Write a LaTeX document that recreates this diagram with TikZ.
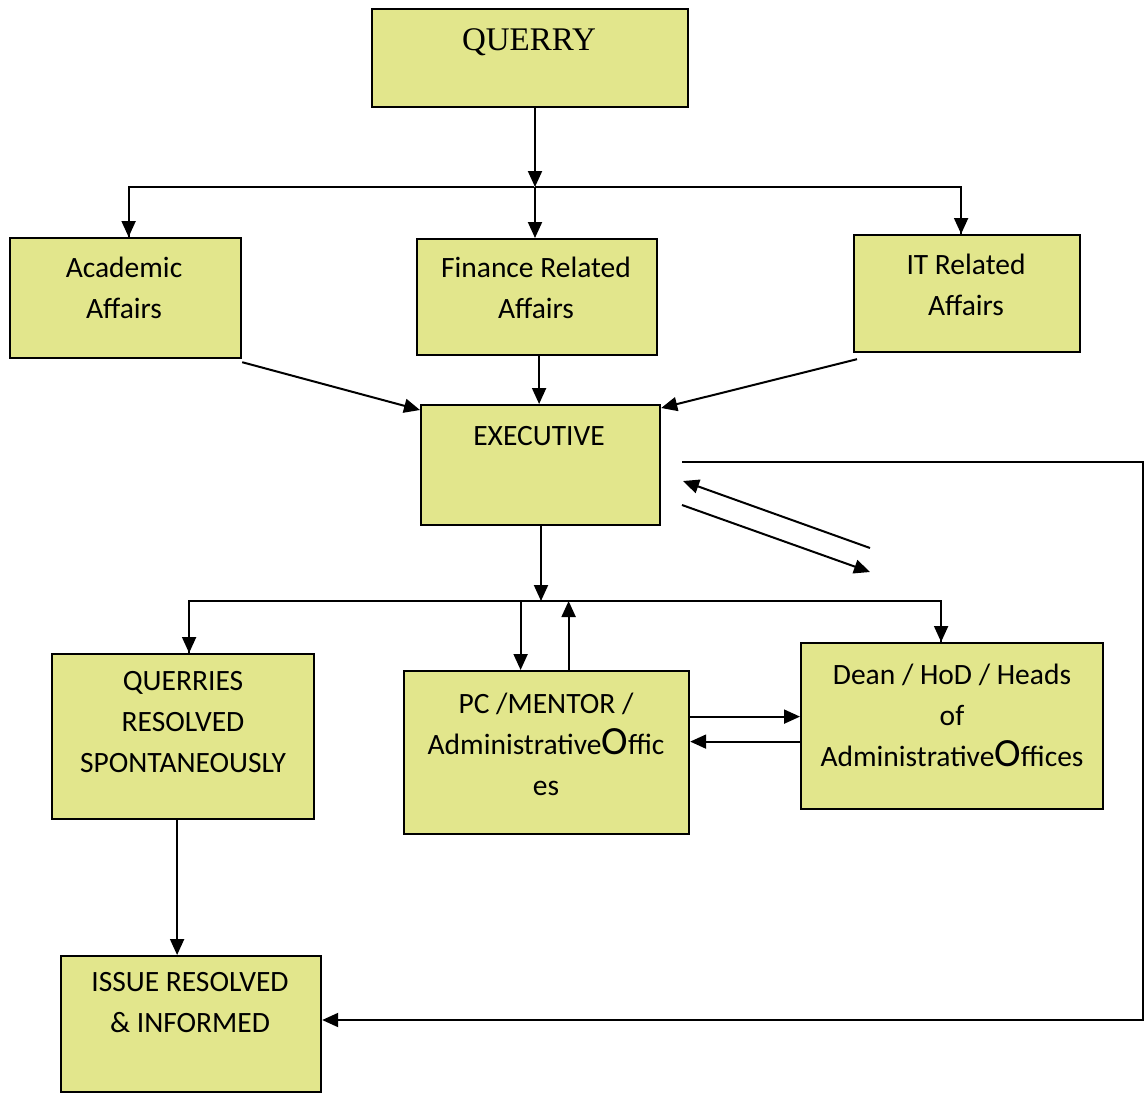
\documentclass[tikz,border=0pt]{standalone}
\usepackage{fontspec}
\setmainfont{Carlito}
\newfontfamily\serifq{Liberation Serif}
\usetikzlibrary{arrows.meta}
\definecolor{boxfill}{RGB}{226,230,140}
\begin{document}
\begin{tikzpicture}[x=1pt,y=-1pt,
  box/.style={draw=black, line width=2.2pt, fill=boxfill, inner sep=0pt, anchor=north west},
  txt/.style={font=\fontsize{29.5}{41}\selectfont, align=center, inner sep=0pt},
  arr/.style={-{Triangle[length=16pt,width=14pt]}, line width=2pt},
  ln/.style={line width=2pt}]
\useasboundingbox (0,0) rectangle (1148,1095);
% boxes
\node[box, minimum width=316pt, minimum height=98pt] (querry) at (371,8) {};
\node[box, minimum width=231pt, minimum height=120pt] (acad) at (9,237) {};
\node[box, minimum width=240pt, minimum height=116pt] (fin) at (416,238) {};
\node[box, minimum width=226pt, minimum height=117pt] (it) at (853,234) {};
\node[box, minimum width=239pt, minimum height=120pt] (exec) at (420,404) {};
\node[box, minimum width=262pt, minimum height=165pt] (spont) at (51,653) {};
\node[box, minimum width=285pt, minimum height=163pt] (pc) at (403,670) {};
\node[box, minimum width=302pt, minimum height=166pt] (dean) at (800,642) {};
\node[box, minimum width=260pt, minimum height=136pt] (issue) at (60,955) {};
% texts
\node[txt, font=\serifq\fontsize{33}{40}\selectfont] (querryt) at (529,42) {QUERRY};
\node[txt] (acadt) at (124,288) {Academic\\Affairs};
\node[txt] (fint) at (536,288) {Finance Related\\Affairs};
\node[txt] (itt) at (966,285) {IT Related\\Affairs};
\node[txt] (exect) at (539,436) {EXECUTIVE};
\node[txt] (spontt) at (183,722) {QUERRIES\\RESOLVED\\SPONTANEOUSLY};
\node[txt] (pct) at (546,744) {PC /MENTOR /\\Administrative{\fontsize{40}{40}\selectfont O}ffic\\es};
\node[txt] (deant) at (952,715) {Dean / HoD / Heads\\of\\Administrative{\fontsize{40}{40}\selectfont O}ffices};
\node[txt] (issuet) at (190,1003) {ISSUE RESOLVED\\\& INFORMED};
% coordinates
\coordinate (j1) at (535,187);
\coordinate (j2) at (541,601);
\coordinate (r1) at (1143,1020);
\coordinate (d1a) at (870,548);
\coordinate (d1b) at (683,481);
\coordinate (d2a) at (682,505);
\coordinate (d2b) at (870,572);
% connectors top
\draw[arr] (j1 |- querry.south) -- (j1);
\draw[ln] ([xshift=-1pt]j1) -| ([xshift=3pt]acad.north);
\draw[ln] (j1) -| ([xshift=-6pt]it.north);
\draw[arr] (j1 -| acad.north) ++(3,0) -- ([xshift=3pt]acad.north);
\draw[arr] (j1) -- (j1 |- fin.north);
\draw[arr] (j1 -| it.north) ++(-6,0) -- ([xshift=-6pt]it.north);
% into executive
\draw[arr] ([yshift=-3pt]acad.south east) -- ([yshift=-6pt]exec.north west);
\draw[arr] ([xshift=2pt]fin.south) -- ([xshift=2pt]fin.south |- exec.north);
\draw[arr] ([xshift=4pt,yshift=-6pt]it.south west) -- ([yshift=-4pt]exec.north east);
% executive loop to issue
\draw[arr] ([xshift=21pt,yshift=3pt]exec.east) -- ([yshift=3pt]exec.east -| r1) -- (r1) -- (r1 -| issue.east);
% free diagonal arrows
\draw[arr] (d1a) -- (d1b);
\draw[arr] (d2a) -- (d2b);
% executive down
\draw[arr] (j2 |- exec.south) -- (j2);
\draw[ln] (j2) -| ([xshift=6pt]spont.north);
\draw[ln] (j2) -| ([xshift=-11pt]dean.north);
\draw[arr] ([xshift=6pt]spont.north |- j2) -- ([xshift=6pt]spont.north);
\draw[arr] ([xshift=-11pt]dean.north |- j2) -- ([xshift=-11pt]dean.north);
\draw[arr] ([xshift=-26pt]pc.north |- j2) -- ([xshift=-26pt]pc.north);
\draw[arr] ([xshift=22pt]pc.north) -- ([xshift=22pt]pc.north |- j2);
% pc <-> dean
\draw[arr] ([yshift=36pt]pc.east) -- ([yshift=36pt]pc.east -| dean.west);
\draw[arr] ([yshift=11pt]pc.east -| dean.west) -- ([yshift=11pt]pc.east);
% spont -> issue
\draw[arr] ([xshift=-6pt]spont.south) -- ([xshift=-6pt]spont.south |- issue.north);
\end{tikzpicture}
\end{document}
